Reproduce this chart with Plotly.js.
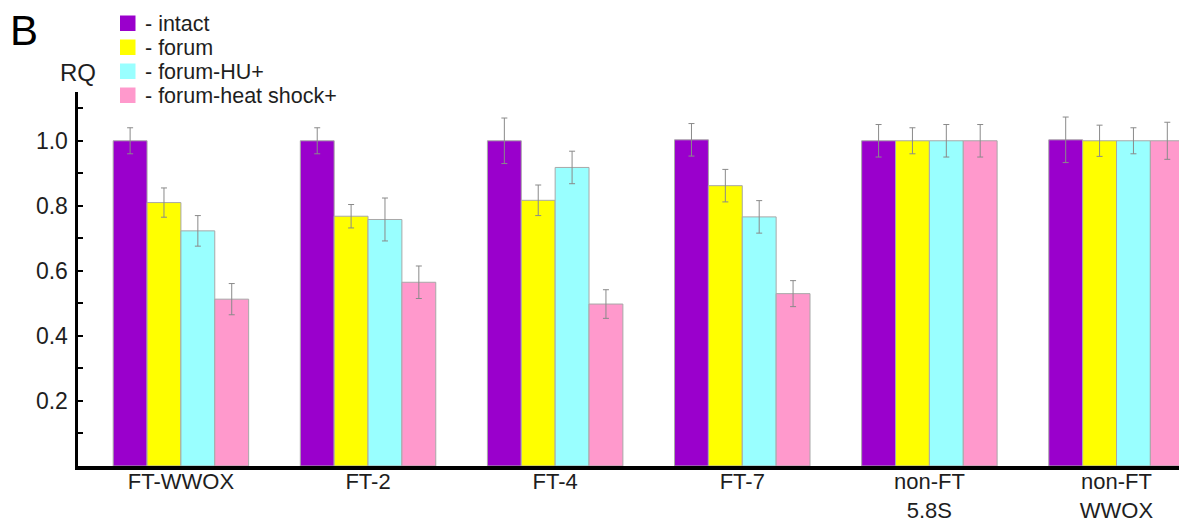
<!DOCTYPE html>
<html>
<head>
<meta charset="utf-8">
<script src="https://cdn.plot.ly/plotly-3.0.1.min.js"></script>
<style>
  html, body { margin: 0; padding: 0; background: #fff; }
  #chart { width: 1179px; height: 524px; }
</style>
</head>
<body>
<div id="chart"></div>
<script>
// ---- data ----
const categories = ['FT-WWOX', 'FT-2', 'FT-4', 'FT-7', 'non-FT<br>5.8S', 'non-FT<br>WWOX'];
const seriesNames = ['intact', 'forum', 'forum-HU+', 'forum-heat shock+'];
const intact      = [1.000, 1.000, 1.000, 1.003, 1.000, 1.003];
const forum       = [0.810, 0.768, 0.817, 0.862, 1.000, 1.000];
const forumHU     = [0.723, 0.758, 0.918, 0.766, 1.000, 1.000];
const forumHeat   = [0.513, 0.565, 0.498, 0.530, 1.000, 1.000];
const intactErr    = [0.040, 0.040, 0.070, 0.050, 0.050, 0.070];
const forumErr     = [0.045, 0.036, 0.047, 0.050, 0.040, 0.048];
const forumHUErr   = [0.047, 0.066, 0.050, 0.050, 0.050, 0.040];
const forumHeatErr = [0.048, 0.050, 0.044, 0.040, 0.050, 0.057];
const yTickVals  = [0.2, 0.4, 0.6, 0.8, 1.0];
const yMinorVals = [0.1, 0.3, 0.5, 0.7, 0.9, 1.1];

// ---- styles ----
const colors = ['#9a00cc', '#ffff00', '#99ffff', '#ff99cc'];
const values = [intact, forum, forumHU, forumHeat];
const errors = [intactErr, forumErr, forumHUErr, forumHeatErr];
const FONT = 'Liberation Sans, Arial, Helvetica, sans-serif';
const TXT = '#1e1e1e';

const W = 1179, H = 524, ML = 78, MR = 0, MT = 92, MB = 58;
const PW = W - ML - MR, PH = H - MT - MB;
const px = p => (p - ML) / PW;
const py = p => (H - MB - p) / PH;

const traces = seriesNames.map((name, i) => ({
  type: 'bar',
  name: name,
  x: categories,
  y: values[i],
  marker: { color: colors[i], line: { color: '#a8a8a8', width: 1 } },
  error_y: { type: 'data', array: errors[i], visible: true, color: '#8a8a8a', thickness: 1, width: 3 },
  showlegend: false,
  hoverinfo: 'x+y'
}));

// manual legend (compact line spacing as in the reference)
const shapes = [];
const annotations = [];
const legTop = 15.5, legStep = 24, sw = 15.5, legX = 120;
seriesNames.forEach((name, i) => {
  const top = legTop + i * legStep;
  shapes.push({
    type: 'rect', xref: 'paper', yref: 'paper',
    x0: px(legX), x1: px(legX + sw), y0: py(top), y1: py(top + sw),
    fillcolor: colors[i], line: { width: 0 }
  });
  annotations.push({
    xref: 'paper', yref: 'paper', x: px(legX + 24), y: py(top + sw / 2 + 1),
    xanchor: 'left', yanchor: 'middle', showarrow: false, borderpad: 0,
    text: '- ' + name, font: { family: FONT, size: 21.5, color: TXT }
  });
});
annotations.push({
  xref: 'paper', yref: 'paper', x: px(8), y: py(30),
  xanchor: 'left', yanchor: 'middle', showarrow: false,
  text: 'B', font: { family: FONT, size: 42, color: '#000' }
});
annotations.push({
  xref: 'paper', yref: 'paper', x: px(78), y: py(72),
  xanchor: 'center', yanchor: 'middle', showarrow: false,
  text: 'RQ', font: { family: FONT, size: 24, color: TXT }
});

const layout = {
  width: W, height: H,
  margin: { l: ML, r: MR, t: MT, b: MB, pad: 0 },
  paper_bgcolor: '#fff', plot_bgcolor: '#fff',
  barmode: 'group', bargap: 0.276, bargroupgap: 0,
  font: { family: FONT, color: TXT },
  showlegend: false,
  xaxis: {
    type: 'category',
    range: [-0.55, 5.334],
    showline: true, linecolor: '#000', linewidth: 4,
    ticks: '', showgrid: false, zeroline: false,
    tickfont: { family: FONT, size: 22, color: TXT },
    ticklabelstandoff: -7
  },
  yaxis: {
    range: [0, 1.15],
    showline: true, linecolor: '#000', linewidth: 3.5,
    showgrid: false, zeroline: false,
    tickmode: 'array', tickvals: yTickVals,
    tickformat: '.1f',
    ticks: 'inside', ticklen: 5, tickwidth: 2, tickcolor: '#000',
    minor: { tickmode: 'array', tickvals: yMinorVals, ticks: 'inside', ticklen: 5, tickwidth: 2, tickcolor: '#000', showgrid: false },
    tickfont: { family: FONT, size: 23, color: TXT },
    ticklabelstandoff: 2
  },
  shapes: shapes,
  annotations: annotations
};

Plotly.newPlot('chart', traces, layout, { staticPlot: true, displayModeBar: false });
</script>
</body>
</html>
